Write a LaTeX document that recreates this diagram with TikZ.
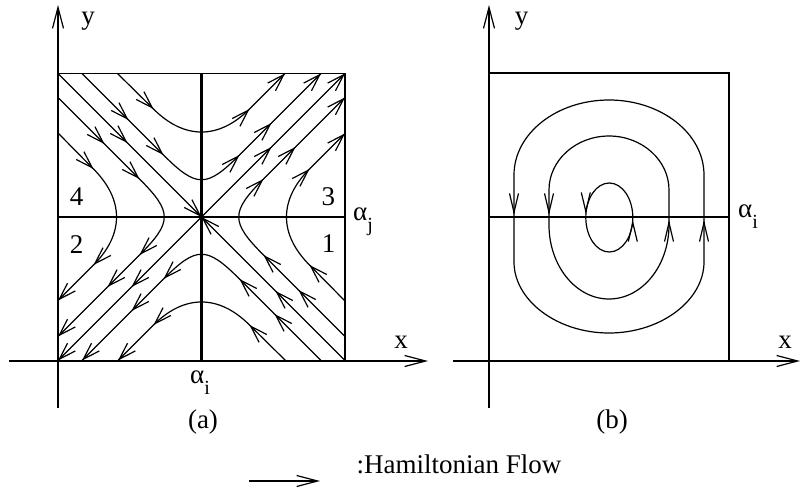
\documentclass[tikz,border=0pt]{standalone}
\usepackage{fontspec}
\usetikzlibrary{arrows.meta}
\setmainfont{Liberation Serif}
\newcommand\asub[1]{α\raisebox{-11pt}{\fontsize{20}{20}\selectfont #1}}
\tikzset{
 ln/.style={line width=1.2pt},
 thk/.style={line width=2.7pt},
 arw/.style={line width=1.2pt, -{Straight Barb[length=17pt,width=11pt]}},
 arwL/.style={line width=1.2pt, -{Straight Barb[length=21pt,width=11pt]}},
 arwR/.style={line width=1.2pt, -{Straight Barb[length=19pt,width=9pt]}},
 lbl/.style={font=\fontsize{27}{30}\selectfont, inner sep=0pt, anchor=base},
}
% arrowheads with tip at (#1,#2); directions in y-down coordinates
\newcommand\arDR[2]{\draw[arw] ({#1-1},{#2-1}) -- (#1,#2);}
\newcommand\arUR[2]{\draw[arw] ({#1-1},{#2+1}) -- (#1,#2);}
\newcommand\arUL[2]{\draw[arw] ({#1+1},{#2+1}) -- (#1,#2);}
\newcommand\arDL[2]{\draw[arw] ({#1+1},{#2-1}) -- (#1,#2);}
\newcommand\hypsector{%
  \draw[ln] (-84,-143.5) -- (-48,-108) .. controls (-17.3,-77.3) and (17.3,-77.3) .. (48,-108) -- (83.5,-143.5);
  \draw[ln] (-119.5,-143.5) -- (-38,-62) .. controls (-5,-29) and (5,-29) .. (38,-62) -- (119.5,-143.5);
  \arDR{-48}{-108}
  \arDR{-73}{-97}
  \arDR{-38}{-62}
  \arUR{48}{-108}
  \arUR{83.5}{-143.5}
  \arUR{38}{-62}
  \arUR{70}{-94}
  \arUR{119.5}{-143.5}
}
\begin{document}
\begin{tikzpicture}[x=1pt,y=-1pt]
\useasboundingbox (0,0) rectangle (801,501);
% ---------- panel (a) ----------
\coordinate (aYb) at (58,408); \coordinate (aYt) at (58,5);
\coordinate (aXl) at (9,361); \coordinate (aXr) at (428,361);
\draw[arwL] (aYb) -- (aYt);
\draw[arwL] (aXl) -- (aXr);
\begin{scope}[shift={(201.5,217)}]
  \begin{scope} \hypsector \end{scope}
  \begin{scope}[cm={0,-1,-1,0,(0,0)}] \hypsector \end{scope}
  \begin{scope}[rotate=180] \hypsector \end{scope}
  \begin{scope}[cm={0,1,1,0,(0,0)}] \hypsector \end{scope}
  \coordinate (c) at (0,0);
  \coordinate (tl) at (-143.5,-143.5); \coordinate (br) at (143.5,143.5);
  \coordinate (tr) at (143.5,-143.5); \coordinate (bl) at (-143.5,143.5);
  \draw[ln] (tl) -- (br);
  \draw[ln] (bl) -- (tr);
  \arDR{-74}{-74}
  \arDR{0}{0}
  \arUL{74}{74}
  \arUL{0}{0}
  \arUR{70}{-70}
  \arUR{143.5}{-143.5}
  \arDL{-70}{70}
  \arDL{-143.5}{143.5}
  \draw[thk] (0,-143.5) -- (0,143.5);
  \draw[thk] (-143.5,0) -- (143.5,0);
  \draw[ln] (tl) rectangle (br);
\end{scope}
\node[lbl] (ya) at (88,24.5) {y};
\node[lbl] (xa) at (401,348.3) {x};
\node[lbl] (n4) at (76.7,205.7) {4};
\node[lbl] (n3) at (328.3,205) {3};
\node[lbl] (n2) at (76.7,253) {2};
\node[lbl] (n1) at (328.7,252.5) {1};
\node[lbl, anchor=base west] (aj) at (353,220) {\asub{j}};
\node[lbl, anchor=base west] (ai) at (190,383) {\asub{i}};
\node[lbl] (capa) at (203,428) {(a)};
% ---------- panel (b) ----------
\coordinate (bYb) at (489,408); \coordinate (bYt) at (489,5);
\coordinate (bXl) at (453,361); \coordinate (bXr) at (800,361);
\draw[arwL] (bYb) -- (bYt);
\draw[arwL] (bXl) -- (bXr);
\draw[ln] (489,73) rectangle (729,361);
\draw[thk] (489,217) -- (729,217);
% outer orbit
\draw[ln] (514,217) -- (514,175) .. controls (514,133.6) and (556.6,100) .. (609,100)
  .. controls (661.4,100) and (704,133.6) .. (704,175) -- (704,262)
  .. controls (704,300) and (661.4,333) .. (609,333)
  .. controls (556.6,333) and (514,300) .. (514,262) -- cycle;
% middle orbit
\draw[ln] (549,217) -- (549,190) .. controls (549,160.2) and (575.9,136) .. (609,136)
  .. controls (642.1,136) and (669,160.2) .. (669,190) -- (669,225)
  .. controls (669,265.8) and (642.1,299) .. (609,299)
  .. controls (575.9,299) and (549,265.8) .. (549,225) -- cycle;
% inner orbit
\draw[ln] (609.3,217.5) ellipse [x radius=23.5, y radius=34.5];
\draw[arwR] (514,213) -- (514,215);
\draw[arwR] (549,213) -- (549,215);
\draw[arwR] (585.8,212) -- (585.8,214);
\draw[arwR] (632.8,222) -- (632.8,220);
\draw[arwR] (669,222) -- (669,220);
\draw[arwR] (704,222) -- (704,220);
\node[lbl] (yb) at (521.7,24.5) {y};
\node[lbl] (xb) at (785,348.3) {x};
\node[lbl, anchor=base west] (bi) at (738,217) {\asub{i}};
\node[lbl] (capb) at (612,428) {(b)};
% ---------- legend ----------
\coordinate (lgl) at (249,481); \coordinate (lgr) at (320,481);
\draw[arwL] (lgl) -- (lgr);
\node[lbl, anchor=base west] (lg) at (356.5,473.5) {:Hamiltonian Flow};
\end{tikzpicture}
\end{document}
